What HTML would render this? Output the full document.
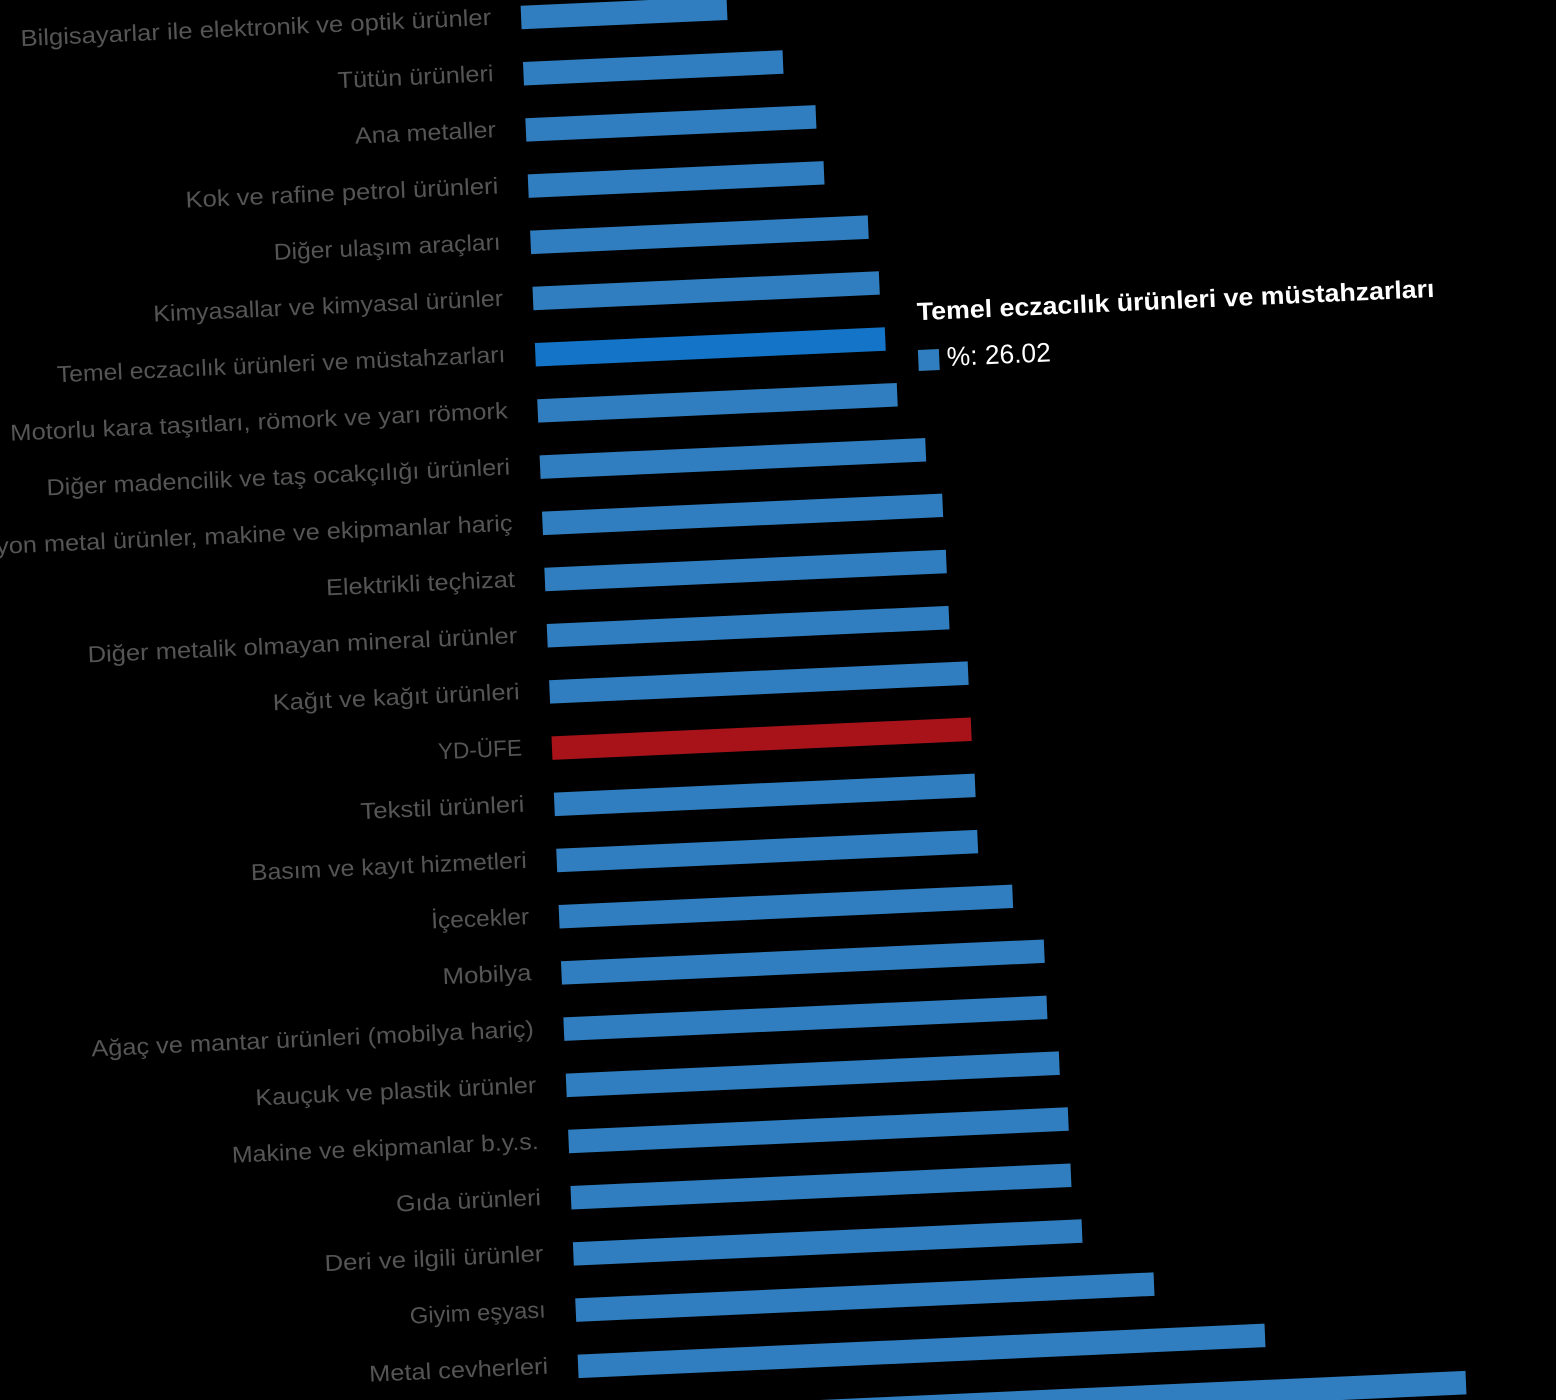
<!DOCTYPE html>
<html>
<head>
<meta charset="utf-8">
<style>
  html, body { margin: 0; padding: 0; background: #000; }
  body { width: 1556px; height: 1400px; overflow: hidden; }
  svg { display: block; }
  .lbl { font-family: "Liberation Sans", "DejaVu Sans", sans-serif; font-size: 23px; fill: #555555; }
  .tt { font-family: "Liberation Sans", Arial, sans-serif; fill: #ffffff; }
</style>
</head>
<body>
<svg width="1556" height="1400" viewBox="0 0 1556 1400" xmlns="http://www.w3.org/2000/svg">
  <rect x="0" y="0" width="1556" height="1400" fill="#000"/>
  <g transform="matrix(0.99899,-0.04501,0.04222,0.99911,520.6,5.8)">
    <g fill="#307ebf">
      <rect x="0" y="0" width="206.1" height="23.5"/>
      <rect x="0" y="56.25" width="259.8" height="23.5"/>
      <rect x="0" y="112.5" width="290.4" height="23.5"/>
      <rect x="0" y="168.75" width="296.1" height="23.5"/>
      <rect x="0" y="225" width="338.0" height="23.5"/>
      <rect x="0" y="281.25" width="346.7" height="23.5"/>
      <rect x="0" y="337.5" width="350.3" height="23.5" fill="#1474c8"/>
      <rect x="0" y="393.75" width="359.9" height="23.5"/>
      <rect x="0" y="450" width="386.0" height="23.5"/>
      <rect x="0" y="506.25" width="400.6" height="23.5"/>
      <rect x="0" y="562.5" width="401.9" height="23.5"/>
      <rect x="0" y="618.75" width="402.2" height="23.5"/>
      <rect x="0" y="675" width="419.0" height="23.5"/>
      <rect x="0" y="731.25" width="419.7" height="23.5" fill="#a81319"/>
      <rect x="0" y="787.5" width="421.2" height="23.5"/>
      <rect x="0" y="843.75" width="421.4" height="23.5"/>
      <rect x="0" y="900" width="454.0" height="23.5"/>
      <rect x="0" y="956.25" width="483.3" height="23.5"/>
      <rect x="0" y="1012.5" width="483.6" height="23.5"/>
      <rect x="0" y="1068.75" width="493.6" height="23.5"/>
      <rect x="0" y="1125" width="500.2" height="23.5"/>
      <rect x="0" y="1181.25" width="500.5" height="23.5"/>
      <rect x="0" y="1237.5" width="509.2" height="23.5"/>
      <rect x="0" y="1293.75" width="578.9" height="23.5"/>
      <rect x="0" y="1350" width="687.6" height="23.5"/>
      <rect x="0" y="1406.25" width="886.4" height="23.5"/>
    </g>
    <g class="lbl" text-anchor="end">
      <text x="-30" y="17.75" textLength="471" lengthAdjust="spacingAndGlyphs">Bilgisayarlar ile elektronik ve optik ürünler</text>
      <text x="-30" y="74" textLength="156" lengthAdjust="spacingAndGlyphs">Tütün ürünleri</text>
      <text x="-30" y="130.25" textLength="141" lengthAdjust="spacingAndGlyphs">Ana metaller</text>
      <text x="-30" y="186.5" textLength="313" lengthAdjust="spacingAndGlyphs">Kok ve rafine petrol ürünleri</text>
      <text x="-30" y="242.75" textLength="227" lengthAdjust="spacingAndGlyphs">Diğer ulaşım araçları</text>
      <text x="-30" y="299" textLength="350" lengthAdjust="spacingAndGlyphs">Kimyasallar ve kimyasal ürünler</text>
      <text x="-30" y="355.25" textLength="449" lengthAdjust="spacingAndGlyphs">Temel eczacılık ürünleri ve müstahzarları</text>
      <text x="-30" y="411.5" textLength="498" lengthAdjust="spacingAndGlyphs">Motorlu kara taşıtları, römork ve yarı römork</text>
      <text x="-30" y="467.75" textLength="464" lengthAdjust="spacingAndGlyphs">Diğer madencilik ve taş ocakçılığı ürünleri</text>
      <text x="-30" y="524" textLength="614" lengthAdjust="spacingAndGlyphs">Fabrikasyon metal ürünler, makine ve ekipmanlar hariç</text>
      <text x="-30" y="580.25" textLength="189" lengthAdjust="spacingAndGlyphs">Elektrikli teçhizat</text>
      <text x="-30" y="636.5" textLength="430" lengthAdjust="spacingAndGlyphs">Diğer metalik olmayan mineral ürünler</text>
      <text x="-30" y="692.75" textLength="247" lengthAdjust="spacingAndGlyphs">Kağıt ve kağıt ürünleri</text>
      <text x="-30" y="749" textLength="84" lengthAdjust="spacingAndGlyphs">YD-ÜFE</text>
      <text x="-30" y="805.25" textLength="164" lengthAdjust="spacingAndGlyphs">Tekstil ürünleri</text>
      <text x="-30" y="861.5" textLength="276" lengthAdjust="spacingAndGlyphs">Basım ve kayıt hizmetleri</text>
      <text x="-30" y="917.75" textLength="98" lengthAdjust="spacingAndGlyphs">İçecekler</text>
      <text x="-30" y="974" textLength="89" lengthAdjust="spacingAndGlyphs">Mobilya</text>
      <text x="-30" y="1030.25" textLength="443" lengthAdjust="spacingAndGlyphs">Ağaç ve mantar ürünleri (mobilya hariç)</text>
      <text x="-30" y="1086.5" textLength="281" lengthAdjust="spacingAndGlyphs">Kauçuk ve plastik ürünler</text>
      <text x="-30" y="1142.75" textLength="307" lengthAdjust="spacingAndGlyphs">Makine ve ekipmanlar b.y.s.</text>
      <text x="-30" y="1199" textLength="145" lengthAdjust="spacingAndGlyphs">Gıda ürünleri</text>
      <text x="-30" y="1255.25" textLength="219" lengthAdjust="spacingAndGlyphs">Deri ve ilgili ürünler</text>
      <text x="-30" y="1311.5" textLength="136" lengthAdjust="spacingAndGlyphs">Giyim eşyası</text>
      <text x="-30" y="1367.75" textLength="179" lengthAdjust="spacingAndGlyphs">Metal cevherleri</text>
      <text x="-30" y="1424" textLength="260" lengthAdjust="spacingAndGlyphs">Ham petrol ve doğal gaz</text>
    </g>
    <text class="tt" x="383" y="332" font-size="25" font-weight="bold" textLength="518" lengthAdjust="spacingAndGlyphs">Temel eczacılık ürünleri ve müstahzarları</text>
    <rect x="382.4" y="361.7" width="21" height="21" fill="#307ebf"/>
    <text class="tt" x="411" y="379" font-size="27" textLength="104" lengthAdjust="spacingAndGlyphs">%: 26.02</text>
  </g>
</svg>
</body>
</html>
